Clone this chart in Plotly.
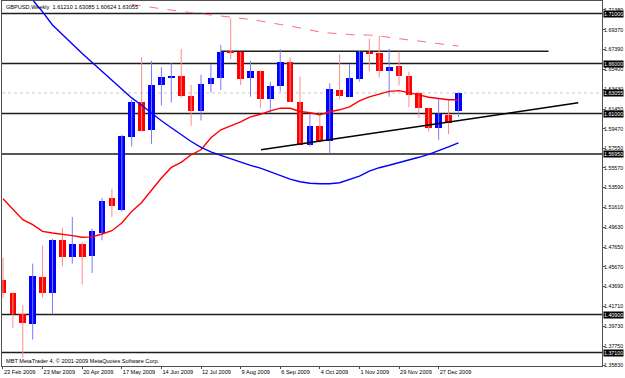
import plotly.graph_objects as go

# ---- data (weekly GBPUSD, week index 0 = 23 Feb 2009) ----
weeks = list(range(47))
opens = [1.4439, 1.4306, 1.4097, 1.4000, 1.4466, 1.4306, 1.4832, 1.4666, 1.4799, 1.4672,
         1.4905, 1.5255, 1.5138, 1.5870, 1.6220, 1.5937, 1.6383, 1.6456, 1.6476, 1.6276,
         1.6130, 1.6393, 1.6453, 1.6723, 1.6713, 1.6453, 1.6526, 1.6244, 1.6379, 1.6613,
         1.6220, 1.5787, 1.5980, 1.5830, 1.6336, 1.6269, 1.6446, 1.6719, 1.6709, 1.6529,
         1.6579, 1.6476, 1.6303, 1.6154, 1.5954, 1.6087, 1.61210]
highs = [1.4659, 1.4313, 1.4183, 1.4599, 1.4779, 1.4846, 1.4958, 1.5065, 1.4812, 1.4948,
         1.5255, 1.5348, 1.5887, 1.6237, 1.6663, 1.6626, 1.6563, 1.6603, 1.6746, 1.6386,
         1.6486, 1.6593, 1.6786, 1.7052, 1.6716, 1.6626, 1.6530, 1.6419, 1.6743, 1.6663,
         1.6469, 1.6104, 1.6120, 1.6403, 1.6693, 1.6593, 1.6725, 1.6846, 1.6879, 1.6746,
         1.6719, 1.6519, 1.6319, 1.6160, 1.6246, 1.6236, 1.63085]
lows = [1.4259, 1.3957, 1.3657, 1.3840, 1.4257, 1.4100, 1.4572, 1.4599, 1.4389, 1.4506,
        1.4832, 1.5065, 1.5121, 1.5770, 1.5920, 1.5797, 1.6180, 1.6210, 1.6259, 1.5977,
        1.6030, 1.6309, 1.6336, 1.6643, 1.6386, 1.6269, 1.6154, 1.6104, 1.6319, 1.6215,
        1.5780, 1.5770, 1.5810, 1.5697, 1.6246, 1.6263, 1.6419, 1.6519, 1.6459, 1.6269,
        1.6379, 1.6164, 1.6054, 1.5920, 1.5837, 1.5894, 1.60624]
closes = [1.4309, 1.4097, 1.4007, 1.4472, 1.4306, 1.4839, 1.4666, 1.4799, 1.4666, 1.4922,
          1.5228, 1.5171, 1.5877, 1.6220, 1.5930, 1.6386, 1.6463, 1.6468, 1.6276, 1.6130,
          1.6396, 1.6456, 1.6719, 1.6703, 1.6446, 1.6526, 1.6244, 1.6379, 1.6613, 1.6220,
          1.5787, 1.5980, 1.5830, 1.6343, 1.6276, 1.6453, 1.6719, 1.6703, 1.6529, 1.6569,
          1.6476, 1.6286, 1.6154, 1.5960, 1.6097, 1.6004, 1.63055]

ma_red = [1.5248, 1.5138, 1.5038, 1.4988, 1.4921, 1.4905, 1.4895, 1.4879, 1.4862, 1.4866,
          1.4895, 1.4928, 1.5005, 1.5121, 1.5211, 1.5338, 1.5455, 1.5561, 1.5611, 1.5687,
          1.5737, 1.5857, 1.5937, 1.5977, 1.6017, 1.6067, 1.6092, 1.6127, 1.6154, 1.6152,
          1.6120, 1.6107, 1.6087, 1.6117, 1.6137, 1.6167, 1.6227, 1.6266, 1.6296, 1.6321,
          1.6329, 1.6311, 1.6286, 1.6262, 1.6247, 1.6237, 1.6237]
ma_blue_weeks = list(range(3, 47))
ma_blue = [1.7235, 1.7116, 1.6985, 1.6886, 1.6796, 1.6701, 1.6611, 1.6516, 1.6431, 1.6341,
           1.6256, 1.6182, 1.6102, 1.6027, 1.5957, 1.5887, 1.5820, 1.5762, 1.5717, 1.5682,
           1.5647, 1.5612, 1.5582, 1.5553, 1.5518, 1.5478, 1.5443, 1.5418, 1.5403, 1.5398,
           1.5398, 1.5408, 1.5438, 1.5473, 1.5523, 1.5558, 1.5582, 1.5607, 1.5632, 1.5662,
           1.5692, 1.5727, 1.5767, 1.5807]
ma_slow_weeks = list(range(13, 47))
ma_slow = [1.7190, 1.7175, 1.7160, 1.7145, 1.7135, 1.7120, 1.7110, 1.7095, 1.7085, 1.7075,
           1.7065, 1.7055, 1.7040, 1.7025, 1.7005, 1.6990, 1.6975, 1.6955, 1.6935, 1.6915,
           1.6905, 1.6895, 1.6890, 1.6885, 1.6885, 1.6875, 1.6860, 1.6845, 1.6835, 1.6825,
           1.6810, 1.6795, 1.6785, 1.6775]

hlines = [1.71000, 1.66000, 1.61000, 1.56950, 1.40900, 1.37100]
bid = 1.63055
short_line = (22, 55.1, 1.6723)
trend_x = [26.06, 58.1]
trend_y = [1.5737, 1.6207]

xtick_pos = [0, 4, 8, 12, 16, 20, 24, 28, 32, 36, 40, 44]
xtick_text = ["23 Feb 2009", "23 Mar 2009", "20 Apr 2009", "17 May 2009", "14 Jun 2009",
              "12 Jul 2009", "9 Aug 2009", "6 Sep 2009", "4 Oct 2009", "1 Nov 2009",
              "29 Nov 2009", "27 Dec 2009"]
ytick_vals = [1.71380, 1.69370, 1.67390, 1.65400, 1.63430, 1.61450, 1.59470, 1.57550,
              1.55570, 1.53590, 1.51610, 1.49630, 1.47650, 1.45670, 1.43690, 1.41710,
              1.39730, 1.37750, 1.35830]

title_text = "GBPUSD,Weekly  1.61210 1.63085 1.60624 1.63055"
copyright_text = "MBT MetaTrader 4, © 2001-2009 MetaQuotes Software Corp."

FONT = "Liberation Sans"
FS = 5.6
FSY = 5.3
UP, DOWN = "#0000ff", "#ff0000"

fig = go.Figure()

# horizontal levels
for lv in hlines:
    fig.add_shape(type="line", xref="paper", x0=0, x1=1, y0=lv, y1=lv,
                  line=dict(color="#1e1e1e", width=1.6), layer="below")
fig.add_shape(type="line", xref="paper", x0=0, x1=1, y0=bid, y1=bid,
              line=dict(color="#c8c8c8", width=1, dash="dot"), layer="below")
fig.add_shape(type="line", x0=short_line[0], x1=short_line[1], y0=short_line[2], y1=short_line[2],
              line=dict(color="#1e1e1e", width=1.6), layer="below")

# wicks
up_x, up_y, dn_x, dn_y = [], [], [], []
for k, o, h, l, c in zip(weeks, opens, highs, lows, closes):
    if c >= o:
        up_x += [k, k, None]; up_y += [l, h, None]
    else:
        dn_x += [k, k, None]; dn_y += [l, h, None]
fig.add_trace(go.Scatter(x=up_x, y=up_y, mode="lines", line=dict(color="#7a7aff", width=1),
                         hoverinfo="skip", showlegend=False))
fig.add_trace(go.Scatter(x=dn_x, y=dn_y, mode="lines", line=dict(color="#ff8a8a", width=1),
                         hoverinfo="skip", showlegend=False))

# bodies
base = [min(o, c) for o, c in zip(opens, closes)]
size = [max(abs(c - o), 0.0012) for o, c in zip(opens, closes)]
cols = [UP if c >= o else DOWN for o, c in zip(opens, closes)]
fig.add_trace(go.Bar(x=weeks, y=size, base=base, width=0.68, marker=dict(color=cols, line=dict(width=0)),
                     showlegend=False))

# moving averages
fig.add_trace(go.Scatter(x=weeks, y=ma_red, mode="lines", line=dict(color="#ff0000", width=1.4),
                         showlegend=False))
fig.add_trace(go.Scatter(x=ma_blue_weeks, y=ma_blue, mode="lines", line=dict(color="#0000ff", width=1.4),
                         showlegend=False))
fig.add_trace(go.Scatter(x=ma_slow_weeks, y=ma_slow, mode="lines",
                         line=dict(color="#ff7070", width=1, dash="dash"), showlegend=False))
# trend line
fig.add_trace(go.Scatter(x=trend_x, y=trend_y, mode="lines", line=dict(color="#000000", width=1.5),
                         showlegend=False))

# level labels
for lv in hlines + [bid]:
    fig.add_annotation(xref="paper", x=1, y=lv, xanchor="left", yanchor="middle", xshift=1,
                       text=f"{lv:.5f}", showarrow=False, bgcolor="#000000", borderpad=0,
                       font=dict(family=FONT, size=FSY, color="#ffffff"))

fig.add_annotation(xref="paper", yref="paper", x=0, y=1, xanchor="left", yanchor="top",
                   xshift=2, yshift=-1, text=title_text, showarrow=False,
                   font=dict(family=FONT, size=FS, color="#000000"))
fig.add_annotation(xref="paper", yref="paper", x=0, y=0, xanchor="left", yanchor="bottom",
                   xshift=2, yshift=0, text=copyright_text, showarrow=False,
                   font=dict(family=FONT, size=FS, color="#000000"))

fig.update_layout(
    width=625, height=378,
    margin=dict(l=2, r=23, t=1, b=12, autoexpand=False),
    paper_bgcolor="#ffffff", plot_bgcolor="#ffffff",
    bargap=0, showlegend=False,
    xaxis=dict(range=[-0.1, 60.5], tickvals=xtick_pos, ticktext=xtick_text,
               ticklabelposition="outside right", tickangle=0, ticks="outside", ticklen=2,
               tickcolor="#505050", showgrid=False, zeroline=False, showline=True,
               mirror=True, linecolor="#505050", linewidth=1, automargin=False,
               tickfont=dict(family=FONT, size=FS, color="#000000")),
    yaxis=dict(range=[1.3575, 1.7225], side="right", tickvals=ytick_vals,
               ticktext=[f"{v:.5f}" for v in ytick_vals], ticks="outside", ticklen=2,
               ticklabelstandoff=-2,
               tickcolor="#505050", showgrid=False, zeroline=False, showline=True,
               mirror=True, linecolor="#505050", linewidth=1, automargin=False,
               tickfont=dict(family=FONT, size=FSY, color="#000000")),
)

fig.write_html("out.html")
